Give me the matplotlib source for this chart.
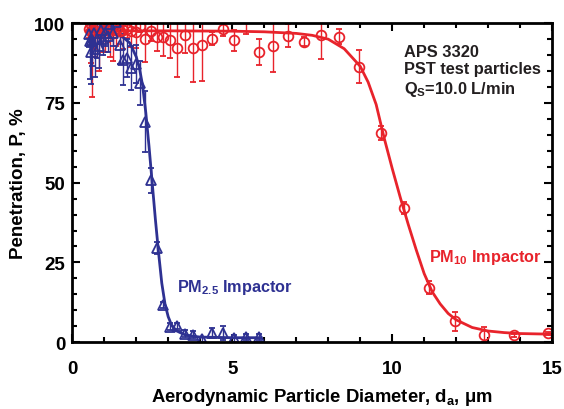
import matplotlib
matplotlib.use("Agg")
import matplotlib.pyplot as plt
from matplotlib.ticker import MultipleLocator

plt.rcParams['font.family'] = ['Liberation Sans', 'DejaVu Sans']
plt.rcParams['font.weight'] = 'bold'
plt.rcParams['mathtext.fontset'] = 'custom'
plt.rcParams['mathtext.rm'] = 'Liberation Sans:bold'
plt.rcParams['mathtext.it'] = 'Liberation Sans:bold'
plt.rcParams['mathtext.bf'] = 'Liberation Sans:bold'

RED = '#e8232b'
BLUE = '#2e3192'

# PM10 impactor measured penetration (APS 3320 channels)
pm10_d = [0.523, 0.542, 0.583, 0.626, 0.673, 0.723, 0.777, 0.835, 0.898, 0.965,
          1.037, 1.114, 1.197, 1.286, 1.382, 1.486, 1.596, 1.715, 1.843, 1.981,
          2.129, 2.288, 2.458, 2.642, 2.839, 3.051, 3.278, 3.523, 3.786, 4.068,
          4.371, 4.698, 5.048, 5.425, 5.829, 6.264, 6.732, 7.234, 7.774, 8.354,
          8.977, 9.647, 10.37, 11.14, 11.97, 12.86, 13.82, 14.86]
pm10_p = [98.3, 100.0, 97.5, 97.0, 98.0, 97.5, 98.5, 97.0, 97.5, 98.0,
          97.0, 98.0, 97.5, 97.0, 98.0, 97.5, 98.0, 98.3, 97.5, 97.3,
          99.2, 95.2, 97.5, 95.7, 95.7, 94.7, 92.2, 96.2, 92.2, 93.2,
          95.2, 98.3, 94.7, 101.5, 91.0, 92.8, 96.1, 94.2, 96.2, 95.8,
          86.3, 65.7, 42.0, 17.1, 6.5, 2.3, 2.1, 2.8]
pm10_err = [3, 2, 10, 20, 6, 8, 5, 12, 4, 7,
            6, 4, 8, 9, 5, 4, 6, 3, 5, 5,
            2, 7.5, 3, 4.5, 6, 5.5, 9, 5.7, 10.6, 11.3,
            2, 2.3, 3.3, 5, 4, 8, 3.6, 1.5, 7.5, 2.3,
            5.2, 2.2, 1.8, 2.1, 3.1, 2.4, 0.5, 0.5]

# PM2.5 impactor measured penetration
pm25_d = [0.523, 0.542, 0.583, 0.626, 0.673, 0.723, 0.777, 0.835, 0.898, 0.965,
          1.037, 1.114, 1.197, 1.286, 1.382, 1.486, 1.596, 1.715, 1.843, 1.981,
          2.129, 2.288, 2.458, 2.642, 2.839, 3.051, 3.278, 3.523, 3.786, 4.068,
          4.371, 4.698, 5.048, 5.425, 5.829]
pm25_p = [96.5, 94.5, 91.0, 94.7, 97.0, 92.0, 95.0, 93.0, 98.0, 95.0,
          97.0, 96.0, 99.7, 97.0, 100.3, 93.2, 88.5, 89.0, 85.9, 87.3,
          81.2, 69.1, 50.7, 29.5, 11.6, 4.9, 5.1, 2.7, 2.4, 0.9,
          2.8, 3.0, 1.2, 1.7, 1.6]
pm25_err = [4, 12, 10, 8, 4, 9, 6, 7, 4, 5,
            4, 5, 3, 4, 2, 6, 8, 6, 7, 6,
            7, 9.5, 4, 2, 1, 1, 1, 1, 1, 0.8,
            1.5, 2.2, 1, 1, 1]

# fitted curves
pm10_fit_d = [0.45, 3, 5, 6, 7, 7.5, 8, 8.5, 9, 9.25, 9.5, 9.75, 10, 10.25,
              10.5, 10.75, 11, 11.25, 11.5, 11.75, 12, 12.5, 13, 13.5, 14, 15]
pm10_fit_p = [97.6, 97.6, 97.5, 97.3, 96.8, 96.2, 95.0, 92.0, 86.5, 81.5, 74.5,
              64.0, 54.5, 45.5, 37.0, 29.0, 21.5, 15.8, 12.0, 9.0, 7.0, 4.6,
              3.5, 3.0, 2.7, 2.5]
pm25_fit_d = [0.5, 1.0, 1.4, 1.6, 1.8, 2.0, 2.1, 2.2, 2.3, 2.4, 2.5, 2.6, 2.7,
              2.8, 2.9, 3.0, 3.1, 3.25, 3.5, 3.75, 4.0, 5.0, 5.9]
pm25_fit_p = [97.8, 97.3, 96.5, 95.5, 93.8, 89.5, 86.0, 80.5, 72.0, 61.5, 50.0,
              38.5, 28.0, 18.5, 12.0, 8.0, 5.5, 3.6, 2.4, 1.9, 1.6, 1.4, 1.4]

fig = plt.figure(figsize=(5.64, 4.10), dpi=100)
ax = fig.add_axes([0.128, 0.163, 0.851, 0.778])

ax.errorbar(pm10_d, pm10_p, yerr=pm10_err, fmt='o', color=RED, mfc='none',
            mec=RED, ms=7, mew=1.3, elinewidth=1.0, capsize=2, capthick=1.0)
ax.plot(pm10_fit_d, pm10_fit_p, color=RED, lw=2)

ax.errorbar(pm25_d, pm25_p, yerr=pm25_err, fmt='^', color=BLUE, mfc='none',
            mec=BLUE, ms=7, mew=1.3, elinewidth=1.0, capsize=2, capthick=1.0)
ax.plot(pm25_fit_d, pm25_fit_p, color=BLUE, lw=2)

ax.set_xlim(0, 15)
ax.set_ylim(0, 100)
ax.xaxis.set_major_locator(MultipleLocator(5))
ax.xaxis.set_minor_locator(MultipleLocator(1))
ax.yaxis.set_major_locator(MultipleLocator(25))
ax.yaxis.set_minor_locator(MultipleLocator(5))
ax.tick_params(which='both', direction='in', top=True, right=True, width=1.5,
               labelsize=13.5)
ax.tick_params(axis='x', which='major', pad=13)
ax.tick_params(axis='y', which='major', pad=5)
ax.tick_params(which='major', length=6)
ax.tick_params(which='minor', length=3.5)
for s in ax.spines.values():
    s.set_linewidth(2)
for lab in ax.get_xticklabels() + ax.get_yticklabels():
    lab.set_fontweight('bold')

ax.set_xlabel('Aerodynamic Particle Diameter, d$_a$, μm', fontsize=13.3,
              fontweight='bold', labelpad=6)
ax.xaxis.label.set_x(0.52)
ax.set_ylabel('Penetration, P, %', fontsize=13.5, fontweight='bold', labelpad=5)

ax.text(0.692, 0.935, 'APS 3320\nPST test particles\nQ$_S$=10.0 L/min',
        transform=ax.transAxes, fontsize=11.8, fontweight='bold', va='top',
        ha='left', color='#231f20', linespacing=1.2)
ax.text(3.28, 17.5, 'PM$_{2.5}$ Impactor', color=BLUE, fontsize=11.7,
        fontweight='bold', va='center')
ax.text(11.15, 27, 'PM$_{10}$ Impactor', color=RED, fontsize=11.7,
        fontweight='bold', va='center')

fig.savefig('out.png', dpi=100)
